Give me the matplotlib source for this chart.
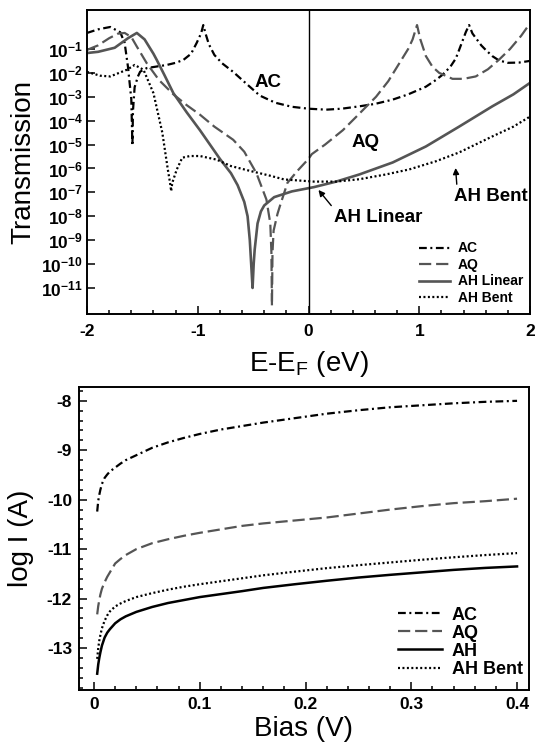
import numpy as np
import matplotlib
matplotlib.use("Agg")
import matplotlib.pyplot as plt
from matplotlib.ticker import FixedLocator, FuncFormatter, MultipleLocator

plt.rcParams['font.family'] = ['Liberation Sans', 'DejaVu Sans']
plt.rcParams['mathtext.fontset'] = 'custom'
plt.rcParams['mathtext.rm'] = 'Liberation Sans'
plt.rcParams['mathtext.bf'] = 'Liberation Sans:bold'
plt.rcParams['axes.unicode_minus'] = False

# --- transmission spectra, log10(T) vs E-EF (eV) ---
ac_E = [-2.00, -1.90, -1.79, -1.70, -1.66, -1.63, -1.60, -1.59, -1.585, -1.57, -1.54, -1.52,
        -1.46, -1.35, -1.28, -1.20, -1.13, -1.06, -1.01, -0.97, -0.95, -0.93, -0.90, -0.85,
        -0.78, -0.68, -0.55, -0.44, -0.30, -0.15, 0.00, 0.16, 0.30, 0.46, 0.60, 0.76, 0.90,
        1.06, 1.15, 1.21, 1.28, 1.33, 1.36, 1.42, 1.45, 1.48, 1.52, 1.56, 1.60, 1.66, 1.72,
        1.80, 1.90, 2.00]
ac_logT = [-0.33, -0.18, -0.08, -0.30, -0.75, -1.75, -3.1, -5.04, -3.6, -2.6, -2.15, -1.95,
           -1.80, -1.72, -1.67, -1.58, -1.46, -1.20, -0.75, -0.35, 0.0, -0.35, -0.80, -1.25,
           -1.60, -1.96, -2.50, -2.95, -3.25, -3.42, -3.50, -3.54, -3.50, -3.40, -3.30, -3.12,
           -2.90, -2.58, -2.30, -2.08, -1.75, -1.40, -1.04, -0.30, 0.0, -0.35, -0.60, -0.85,
           -1.04, -1.30, -1.48, -1.58, -1.57, -1.50]

aq_E = [-2.00, -1.90, -1.80, -1.72, -1.66, -1.60, -1.55, -1.46, -1.35, -1.22, -1.10, -0.98,
        -0.85, -0.68, -0.58, -0.47, -0.38, -0.345, -0.335, -0.33, -0.325, -0.315, -0.305,
        -0.28, -0.26, -0.19, -0.10, -0.06, 0.00, 0.03, 0.15, 0.31, 0.45, 0.61, 0.72, 0.82,
        0.90, 0.94, 0.98, 1.01, 1.06, 1.12, 1.18, 1.30, 1.40, 1.51, 1.62, 1.72, 1.82, 1.92,
        2.00]
aq_logT = [-1.04, -0.85, -0.55, -0.36, -0.33, -0.50, -0.90, -1.60, -2.30, -2.90, -3.35, -3.75,
           -4.25, -4.80, -5.30, -6.20, -7.30, -8.30, -9.50, -11.75, -9.50, -8.60, -8.40,
           -7.90, -7.60, -6.60, -6.10, -5.90, -5.60, -5.40, -5.00, -4.40, -3.75, -3.00, -2.35,
           -1.60, -1.00, -0.60, 0.0, -0.60, -1.30, -1.75, -2.00, -2.25, -2.25, -2.15, -1.85,
           -1.45, -1.00, -0.45, 0.07]

ahl_E = [-2.00, -1.90, -1.75, -1.63, -1.55, -1.48, -1.40, -1.37, -1.30, -1.22, -1.10, -0.98,
         -0.80, -0.70, -0.64, -0.58, -0.55, -0.53, -0.515, -0.505, -0.495, -0.486, -0.46,
         -0.43, -0.40, -0.31, -0.15, 0.05, 0.25, 0.46, 0.76, 1.06, 1.36, 1.66, 1.85, 2.00]
ahl_logT = [-1.17, -1.12, -0.95, -0.55, -0.33, -0.60, -1.20, -1.46, -2.10, -2.85, -3.65, -4.40,
            -5.60, -6.20, -6.70, -7.40, -8.00, -9.00, -10.20, -11.00, -10.00, -9.40, -8.30,
            -7.80, -7.55, -7.20, -6.96, -6.78, -6.55, -6.25, -5.75, -5.08, -4.25, -3.40,
            -2.90, -2.42]

ahb_E = [-2.00, -1.88, -1.79, -1.64, -1.57, -1.49, -1.40, -1.32, -1.27, -1.25, -1.24, -1.23,
         -1.19, -1.14, -1.07, -0.98, -0.83, -0.70, -0.53, -0.35, -0.22, 0.05, 0.25, 0.46,
         0.70, 0.91, 1.15, 1.36, 1.66, 1.85, 2.00]
ahb_logT = [-1.96, -2.12, -2.15, -1.87, -1.67, -1.87, -2.85, -4.50, -6.05, -6.60, -6.95, -6.60,
            -6.05, -5.55, -5.48, -5.48, -5.63, -5.90, -6.10, -6.30, -6.46, -6.55, -6.55, -6.45,
            -6.25, -6.04, -5.70, -5.33, -4.66, -4.25, -3.83]

# --- I-V curves, log10(I) vs bias (V) ---
bias = [0.003, 0.004, 0.005, 0.006, 0.0075, 0.01, 0.0125, 0.015, 0.02, 0.025, 0.03, 0.04,
        0.055, 0.07, 0.085, 0.10, 0.12, 0.14, 0.16, 0.19, 0.22, 0.25, 0.28, 0.31, 0.34,
        0.37, 0.40]
logI_ac = [-10.24, -10.02, -9.90, -9.80, -9.68, -9.56, -9.49, -9.43, -9.35, -9.27, -9.20,
           -9.10, -8.95, -8.84, -8.75, -8.67, -8.58, -8.51, -8.44, -8.35, -8.26, -8.19,
           -8.13, -8.09, -8.05, -8.02, -8.00]
logI_aq = [-12.32, -12.15, -12.03, -11.92, -11.80, -11.67, -11.56, -11.47, -11.29, -11.20,
           -11.12, -11.00, -10.88, -10.80, -10.73, -10.67, -10.60, -10.53, -10.48, -10.42,
           -10.36, -10.28, -10.20, -10.13, -10.07, -10.03, -9.98]
logI_ah = [-13.52, -13.33, -13.20, -13.09, -12.95, -12.79, -12.69, -12.62, -12.50, -12.42,
           -12.36, -12.27, -12.17, -12.09, -12.03, -11.97, -11.91, -11.85, -11.785, -11.71,
           -11.64, -11.575, -11.52, -11.47, -11.42, -11.38, -11.35]
logI_bent = [-13.22, -13.00, -12.85, -12.74, -12.60, -12.45, -12.34, -12.26, -12.16, -12.10,
             -12.05, -11.97, -11.89, -11.82, -11.76, -11.71, -11.65, -11.59, -11.53, -11.455,
             -11.385, -11.325, -11.27, -11.215, -11.165, -11.12, -11.08]

gray = '#555555'
lw = 1.6
dashdot = (3.5, 1.6, 0.9, 1.6)
dashed = (5.5, 2.2)
dotted = (0.9, 1.1)

fig = plt.figure(figsize=(5.36, 7.52), dpi=100)
W, H = 536, 752
ax1 = fig.add_axes([87 / W, 1 - 314 / H, 443 / W, 304 / H])
ax2 = fig.add_axes([79 / W, 1 - 690 / H, 450 / W, 303 / H])

# top panel: transmission
ax1.plot(ac_E, 10 ** np.array(ac_logT), color='k', lw=lw, dashes=dashdot, label='AC')
ax1.plot(aq_E, 10 ** np.array(aq_logT), color=gray, lw=lw, dashes=dashed, label='AQ')
ax1.plot(ahl_E, 10 ** np.array(ahl_logT), color=gray, lw=lw + 0.3, label='AH Linear')
ax1.plot(ahb_E, 10 ** np.array(ahb_logT), color='k', lw=lw, dashes=dotted, label='AH Bent')
ax1.axvline(0, color='k', lw=1.0)

ax1.set_yscale('log')
ax1.set_xlim(-2, 2)
ax1.set_ylim(10 ** -12.09, 10 ** 0.63)
ax1.yaxis.set_major_locator(FixedLocator([10.0 ** k for k in range(-11, 0)]))
ax1.yaxis.set_minor_locator(FixedLocator([]))
ax1.yaxis.set_major_formatter(FuncFormatter(
    lambda v, p: r'$\mathbf{10^{%d}}$' % round(np.log10(v))))
ax1.xaxis.set_major_locator(MultipleLocator(1))
ax1.xaxis.set_minor_locator(MultipleLocator(0.2))

ax1.text(-0.369, 10 ** -2.42, 'AC', fontsize=13.5, fontweight='bold', ha='center', va='center')
ax1.text(0.514, 10 ** -4.93, 'AQ', fontsize=13.5, fontweight='bold', ha='center', va='center')
ax1.annotate('AH Linear', xy=(0.09, 10 ** -6.9), xytext=(0.234, 10 ** -8.07),
             fontsize=13.5, fontweight='bold', ha='left', va='center',
             arrowprops=dict(arrowstyle='-|>', color='k', lw=1.0, relpos=(0, 1),
                             shrinkA=1, shrinkB=0, mutation_scale=9))
ax1.annotate('AH Bent', xy=(1.328, 10 ** -5.98), xytext=(1.315, 10 ** -7.19),
             fontsize=13.5, fontweight='bold', ha='left', va='center',
             arrowprops=dict(arrowstyle='-|>', color='k', lw=1.0, relpos=(0.04, 1),
                             shrinkA=1, shrinkB=0, mutation_scale=9))

leg1 = ax1.legend(loc='lower right', bbox_to_anchor=(0.985, 0.03), frameon=False,
                  prop={'size': 10, 'weight': 'bold'}, handlelength=2.25,
                  handletextpad=0.55, labelspacing=0.18, borderpad=0, borderaxespad=0)

ax1.set_ylabel('Transmission', fontsize=20)
ax1.yaxis.set_label_coords(-0.115, 0.5)
ax1.set_xlabel('E-E$_\\mathrm{F}$ (eV)', fontsize=20)
ax1.xaxis.set_label_coords(0.5, -0.115)

# bottom panel: current vs bias
ax2.plot(bias, logI_ac, color='k', lw=lw, dashes=dashdot, label='AC')
ax2.plot(bias, logI_aq, color=gray, lw=lw, dashes=dashed, label='AQ')
ax2.plot(bias, logI_ah, color='k', lw=lw + 0.2, label='AH')
ax2.plot(bias, logI_bent, color='k', lw=lw, dashes=dotted, label='AH Bent')

ax2.set_xlim(-0.0142, 0.4113)
ax2.set_ylim(-13.85, -7.72)
ax2.xaxis.set_major_locator(MultipleLocator(0.1))
ax2.xaxis.set_minor_locator(MultipleLocator(0.02))
ax2.yaxis.set_major_locator(MultipleLocator(1))
ax2.yaxis.set_minor_locator(MultipleLocator(0.2))
ax2.xaxis.set_major_formatter(FuncFormatter(lambda v, p: '0' if abs(v) < 1e-9 else '%.1f' % v))
ax2.yaxis.set_major_formatter(FuncFormatter(lambda v, p: '%d' % round(v)))

leg2 = ax2.legend(loc='lower right', bbox_to_anchor=(0.986, 0.04), frameon=False,
                  prop={'size': 13, 'weight': 'bold'}, handlelength=2.4,
                  handletextpad=0.55, labelspacing=0.06, borderpad=0, borderaxespad=0)

ax2.set_ylabel('log I (A)', fontsize=20)
ax2.yaxis.set_label_coords(-0.1, 0.5)
ax2.set_xlabel('Bias (V)', fontsize=20)
ax2.xaxis.set_label_coords(0.5, -0.085)

for ax in (ax1, ax2):
    for s in ax.spines.values():
        s.set_linewidth(1.4)
    ax.tick_params(which='both', direction='in', top=False, right=False, width=1.1)
    ax.tick_params(which='major', length=5.8)
    ax.tick_params(which='minor', length=3.2)
    for lab in ax.get_xticklabels() + ax.get_yticklabels():
        lab.set_fontweight('bold')
        lab.set_fontsize(12.5)
    ax.set_facecolor('none')

ax1.tick_params(axis='x', which='major', pad=7)
ax1.tick_params(axis='y', which='major', pad=3)
ax2.tick_params(axis='x', which='major', pad=5)
ax2.tick_params(axis='y', which='major', pad=5)

fig.savefig('out.png', dpi=100)
